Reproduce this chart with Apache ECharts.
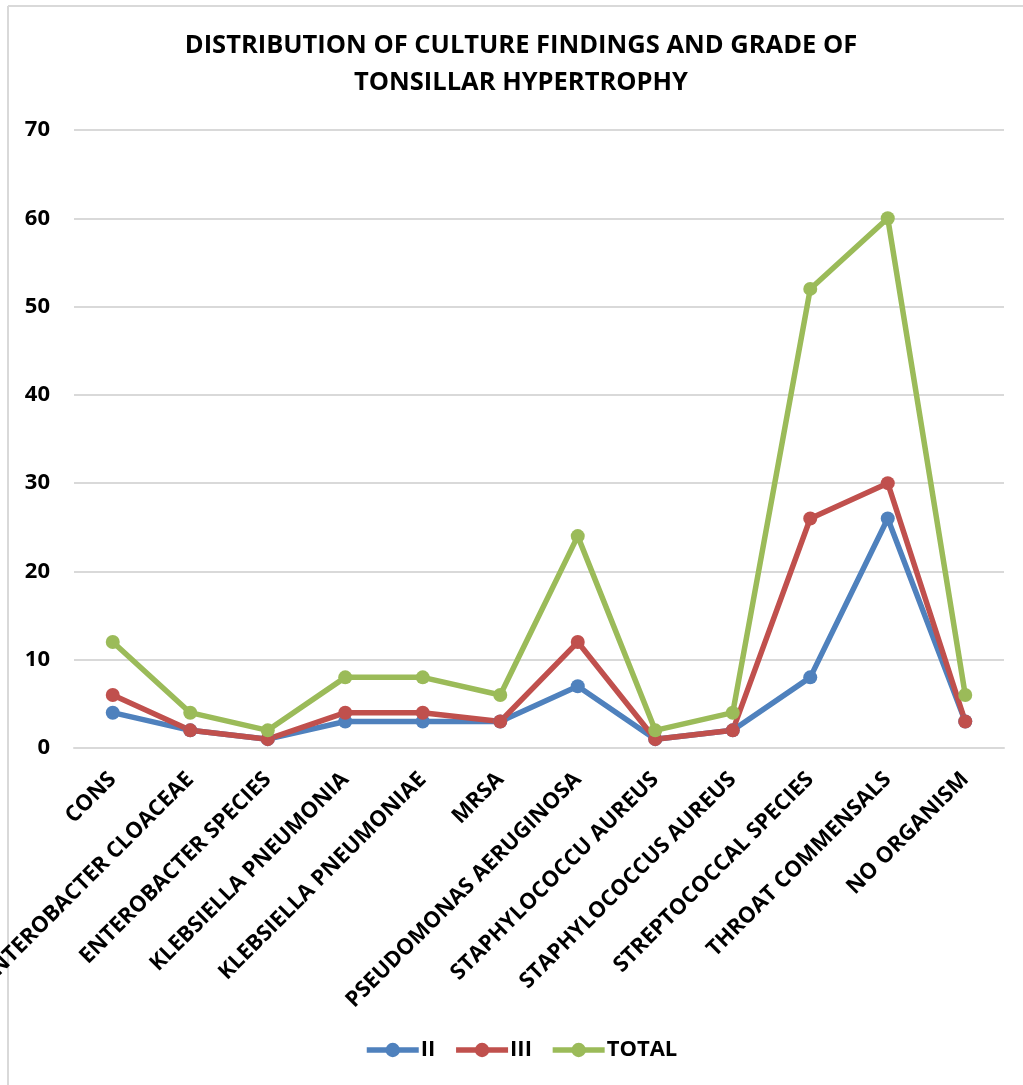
<!DOCTYPE html>
<html>
<head>
<meta charset="utf-8">
<title>Distribution of culture findings and grade of tonsillar hypertrophy</title>
<script src="https://cdn.jsdelivr.net/npm/echarts@6/dist/echarts.min.js"></script>
<style>
  html, body { margin: 0; padding: 0; background: #ffffff; }
  #chart { width: 1023px; height: 1085px; }
</style>
</head>
<body>
<div id="chart"></div>
<script>
// Organisms isolated on throat culture
const categories = [
  'CONS',
  'ENTEROBACTER CLOACEAE',
  'ENTEROBACTER SPECIES',
  'KLEBSIELLA PNEUMONIA',
  'KLEBSIELLA PNEUMONIAE',
  'MRSA',
  'PSEUDOMONAS AERUGINOSA',
  'STAPHYLOCOCCU AUREUS',
  'STAPHYLOCOCCUS AUREUS',
  'STREPTOCOCCAL SPECIES',
  'THROAT COMMENSALS',
  'NO ORGANISM'
];

// Number of cases per grade of tonsillar hypertrophy
const gradeII  = [4, 2, 1, 3, 3, 3, 7, 1, 2, 8, 26, 3];
const gradeIII = [6, 2, 1, 4, 4, 3, 12, 1, 2, 26, 30, 3];
const total    = [12, 4, 2, 8, 8, 6, 24, 2, 4, 52, 60, 6];

// Value axis ticks
const yTicks = [0, 10, 20, 30, 40, 50, 60, 70];

const FONT = '"Open Sans", "DejaVu Sans", sans-serif';
const chart = echarts.init(document.getElementById('chart'), null, { renderer: 'canvas' });

function lineSeries(name, data, color) {
  return {
    name: name,
    type: 'line',
    data: data,
    symbol: 'circle',
    symbolSize: 14,
    lineStyle: { width: 5.5, color: color },
    itemStyle: { color: color },
    emphasis: { disabled: true },
    animation: false
  };
}

chart.setOption({
  backgroundColor: '#ffffff',
  animation: false,
  title: {
    text: 'DISTRIBUTION OF CULTURE FINDINGS AND GRADE OF\nTONSILLAR HYPERTROPHY',
    left: 521,
    top: 27,
    padding: 0,
    textAlign: 'center',
    textStyle: {
      fontFamily: FONT,
      fontWeight: 'bold',
      fontSize: 25.5,
      lineHeight: 37,
      color: '#000000'
    }
  },
  grid: {
    left: 74,
    right: 19,
    top: 130,
    bottom: 337,
    containLabel: false,
    outerBoundsMode: 'none'
  },
  legend: {
    data: ['II', 'III', 'TOTAL'],
    bottom: 19,
    left: 359,
    itemWidth: 52,
    itemHeight: 18,
    itemGap: 18,
    lineStyle: { width: 5.5 },
    textStyle: {
      fontFamily: FONT,
      fontWeight: 'bold',
      fontSize: 22,
      color: '#000000',
      padding: [0, 0, 0, -3]
    }
  },
  xAxis: {
    type: 'category',
    data: categories,
    boundaryGap: true,
    axisLine: { show: true, lineStyle: { color: '#d9d9d9', width: 2 } },
    axisTick: { show: false },
    axisLabel: {
      interval: 0,
      rotate: 45,
      margin: 28,
      fontFamily: FONT,
      fontWeight: 'bold',
      fontSize: 22,
      color: '#000000'
    }
  },
  yAxis: {
    type: 'value',
    min: yTicks[0],
    max: yTicks[yTicks.length - 1],
    interval: yTicks[1] - yTicks[0],
    axisLine: { show: false },
    axisTick: { show: false },
    splitLine: { show: true, lineStyle: { color: '#d9d9d9', width: 2 } },
    axisLabel: {
      margin: 24,
      fontFamily: FONT,
      fontWeight: 'bold',
      fontSize: 22,
      color: '#000000'
    }
  },
  series: [
    lineSeries('II', gradeII, '#4f81bd'),
    lineSeries('III', gradeIII, '#c0504d'),
    lineSeries('TOTAL', total, '#9bbb59')
  ],
  graphic: [
    // chart frame: left and top edges
    {
      type: 'line',
      shape: { x1: 8, y1: 6, x2: 8, y2: 1085 },
      style: { stroke: '#d9d9d9', lineWidth: 2 },
      silent: true
    },
    {
      type: 'line',
      shape: { x1: 8, y1: 6, x2: 1023, y2: 6 },
      style: { stroke: '#d9d9d9', lineWidth: 2 },
      silent: true
    }
  ]
});
</script>
</body>
</html>
